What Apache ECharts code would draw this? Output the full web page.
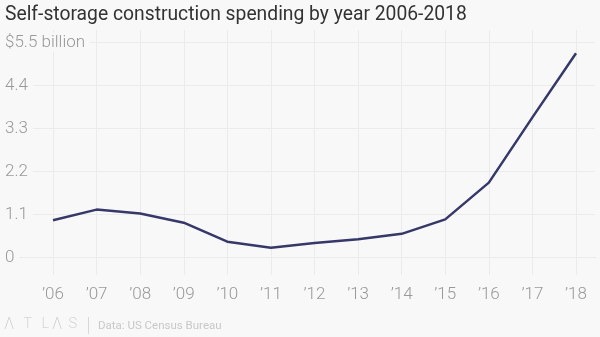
<!DOCTYPE html>
<html>
<head>
<meta charset="utf-8">
<script src="https://cdn.jsdelivr.net/npm/echarts@6/dist/echarts.min.js"></script>
<style>
html,body{margin:0;padding:0;background:#f8f8f8;}
#chart{width:600px;height:337px;}
</style>
</head>
<body>
<div id="chart"></div>
<script>
const years = ['’06','’07','’08','’09','’10','’11','’12','’13','’14','’15','’16','’17','’18'];
const spending = [0.95, 1.22, 1.12, 0.885, 0.40, 0.245, 0.365, 0.46, 0.60, 0.97, 1.91, 3.58, 5.22];
const yTicks = ['0', '1.1', '2.2', '3.3', '4.4', '$5.5 billion'];
const titleText = 'Self-storage construction spending by year 2006-2018';
const sourceText = 'Data: US Census Bureau';
const logoLetters = ['Λ', 'T', 'L', 'Λ', 'S'];

const chart = echarts.init(document.getElementById('chart'), null, {renderer: 'canvas'});
const FONT = 'Roboto';
const gridTop = 42.3, gridBottom = 79.7;
const logoX = [4, 23.5, 41.5, 52, 68.5];
const logoGraphics = logoLetters.map(function (ch, i) {
  return {type: 'text', left: logoX[i], top: 317, style: {text: ch, fontFamily: FONT, fontWeight: 200,
    fontSize: ch === 'Λ' ? 16 : 14.5, fill: '#c8c8c8'}};
});
chart.setOption({
  backgroundColor: '#f8f8f8',
  animation: false,
  title: {
    text: titleText,
    left: 0, top: 1,
    textStyle: {fontFamily: FONT, fontSize: 19.3, fontWeight: 'normal', color: '#333'}
  },
  grid: [
    {left: 21, right: 5, top: gridTop, bottom: gridBottom},
    {left: 53, right: 24, top: 30, bottom: 62},
    {left: 53, right: 24, top: gridTop, bottom: gridBottom}
  ],
  xAxis: [
    {gridIndex: 0, type: 'value', min: 0, max: 1, position: 'bottom',
     axisLine: {show: true, lineStyle: {color: '#c4c4c4', width: 1}},
     axisTick: {show: false}, axisLabel: {show: false}, splitLine: {show: false}, z: 3},
    {gridIndex: 1, type: 'category', data: years, boundaryGap: false,
     axisLine: {show: false}, axisTick: {show: false},
     axisLabel: {margin: 11, fontFamily: FONT, fontWeight: 300, fontSize: 17, color: '#999'},
     splitLine: {show: true, lineStyle: {color: '#ebebeb', width: 1}}, z: 0},
    {gridIndex: 2, type: 'category', data: years, boundaryGap: false, show: false}
  ],
  yAxis: [
    {gridIndex: 0, type: 'value', min: 0, max: 5.5, interval: 1.1,
     axisLine: {show: false}, axisTick: {show: false},
     splitLine: {show: true, lineStyle: {color: '#ebebeb', width: 1}},
     axisLabel: {
       align: 'left', margin: 16, fontFamily: FONT, fontWeight: 300, fontSize: 17, color: '#999',
       backgroundColor: '#f8f8f8', padding: [1, 5, 1, 0],
       formatter: function (v) { const i = Math.round(v / 1.1); return yTicks[i]; }
     }, z: 4},
    {gridIndex: 1, type: 'value', show: false},
    {gridIndex: 2, type: 'value', min: 0, max: 5.5, show: false}
  ],
  series: [{
    type: 'line', xAxisIndex: 2, yAxisIndex: 2, data: spending,
    showSymbol: false, symbol: 'none',
    lineStyle: {color: '#363869', width: 2.5}, z: 5
  }],
  graphic: logoGraphics.concat([
    {type: 'line', shape: {x1: 88.5, y1: 317, x2: 88.5, y2: 334}, style: {stroke: '#d8d8d8', lineWidth: 1}},
    {type: 'text', left: 98, top: 320, style: {text: sourceText, fontFamily: FONT, fontSize: 11.5, fill: '#c8c8c8'}}
  ])
});
</script>
</body>
</html>
